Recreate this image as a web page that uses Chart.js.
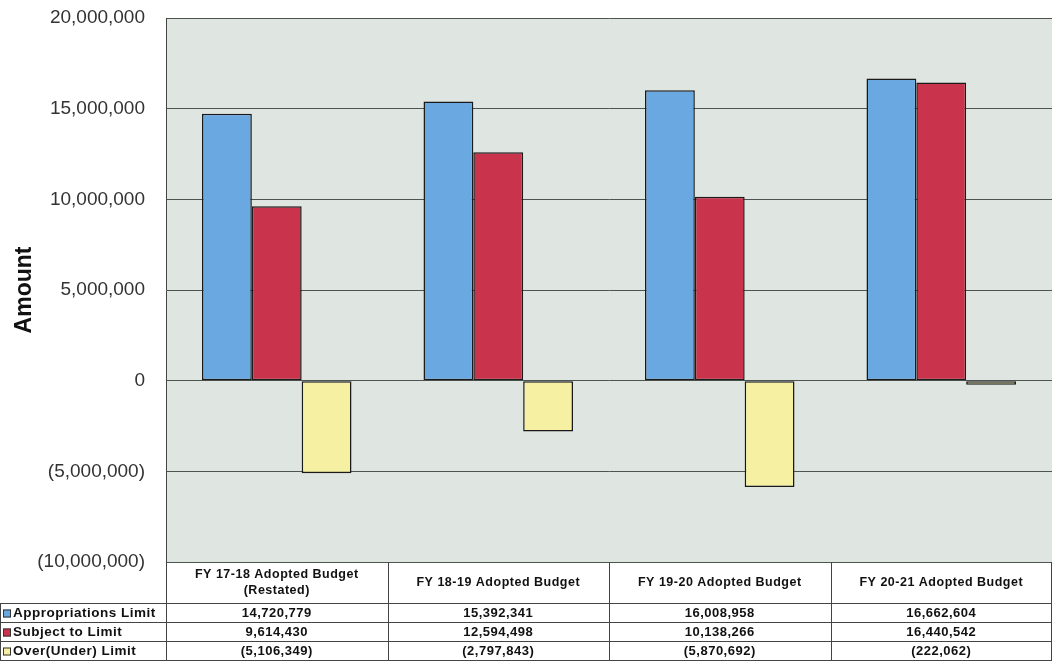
<!DOCTYPE html>
<html>
<head>
<meta charset="utf-8">
<script src="https://cdn.jsdelivr.net/npm/chart.js@4.4.1/dist/chart.umd.min.js"></script>
<style>
  html, body { margin: 0; padding: 0; background: #fff; }
  #wrap { width: 1053px; height: 662px; position: relative; }
</style>
</head>
<body>
<div id="wrap"><canvas id="budgetChart"></canvas></div>
<script>
var categories = [
  ['FY 17-18 Adopted Budget', '(Restated)'],
  ['FY 18-19 Adopted Budget'],
  ['FY 19-20 Adopted Budget'],
  ['FY 20-21 Adopted Budget']
];
var seriesNames = ['Appropriations Limit', 'Subject to Limit', 'Over(Under) Limit'];
var appropriationsLimit = [14720779, 15392341, 16008958, 16662604];
var subjectToLimit = [9614430, 12594498, 10138266, 16440542];
var overUnderLimit = [-5106349, -2797843, -5870692, -222062];
var yTicks = [-10000000, -5000000, 0, 5000000, 10000000, 15000000, 20000000];

var colors = ['#6aa8e2', '#c9344c', '#f6f0a2'];

function fmt(v) {
  var s = Math.abs(v).toLocaleString('en-US');
  return v < 0 ? '(' + s + ')' : s;
}

// plot background
var plotBg = {
  id: 'plotBg',
  beforeDraw: function(chart) {
    var a = chart.chartArea, ctx = chart.ctx;
    ctx.save();
    ctx.fillStyle = '#dfe5e0';
    ctx.fillRect(a.left, a.top, a.right - a.left, a.bottom - a.top);
    ctx.restore();
  }
};

// data table under the plot, columns follow the x scale
var dataTable = {
  id: 'dataTable',
  afterDraw: function(chart) {
    var ctx = chart.ctx, a = chart.chartArea, x = chart.scales.x;
    var catW = (a.right - a.left) / categories.length;
    var top = a.bottom, headBottom = top + 42, rowH = 19;
    var rows = [appropriationsLimit, subjectToLimit, overUnderLimit];
    var bottom = headBottom + rowH * rows.length;
    ctx.save();
    ctx.strokeStyle = '#444';
    ctx.lineWidth = 1;
    ctx.beginPath();
    // header verticals
    for (var i = 0; i <= categories.length; i++) {
      var bx = Math.round(a.left + catW * i) + 0.5;
      if (i === categories.length) bx = a.right - 0.5;
      ctx.moveTo(bx, top);
      ctx.lineTo(bx, bottom);
    }
    ctx.moveTo(0.5, headBottom);
    ctx.lineTo(0.5, bottom);
    for (var r = 0; r <= rows.length; r++) {
      var y = Math.round(headBottom + rowH * r) - 0.5;
      ctx.moveTo(0, y);
      ctx.lineTo(a.right, y);
    }
    ctx.stroke();

    ctx.fillStyle = '#111';
    ctx.textAlign = 'center';
    ctx.textBaseline = 'middle';
    ctx.font = 'bold 12.5px "Liberation Sans", Arial, sans-serif';
    ctx.letterSpacing = '0.5px';
    categories.forEach(function(lines, i) {
      var cx = x.getPixelForValue(i);
      var mid = (top + headBottom) / 2;
      var y0 = mid - (lines.length - 1) * 8;
      lines.forEach(function(t, k) { ctx.fillText(t, cx, y0 + k * 16); });
    });

    ctx.font = 'bold 13px "Liberation Sans", Arial, sans-serif';
    rows.forEach(function(vals, r) {
      var cy = headBottom + rowH * r + rowH / 2;
      vals.forEach(function(v, i) {
        ctx.textAlign = 'center';
        ctx.fillText(fmt(v), x.getPixelForValue(i), cy);
      });
      // legend key + series name
      ctx.fillStyle = colors[r];
      ctx.fillRect(3, cy - 4, 8, 8);
      ctx.strokeStyle = '#333';
      ctx.strokeRect(3.5, cy - 3.5, 7, 7);
      ctx.fillStyle = '#111';
      ctx.textAlign = 'left';
      ctx.font = 'bold 13.5px "Liberation Sans", Arial, sans-serif';
      ctx.fillText(seriesNames[r], 13, cy);
      ctx.font = 'bold 13px "Liberation Sans", Arial, sans-serif';
    });
    ctx.restore();
  }
};

var barData = {
  labels: categories.map(function(c) { return c.join(' '); }),
  datasets: [appropriationsLimit, subjectToLimit, overUnderLimit].map(function(vals, i) {
    return {
      label: seriesNames[i],
      data: vals,
      backgroundColor: colors[i],
      borderColor: '#1a1a1a',
      borderWidth: 1.5,
      borderSkipped: false,
      categoryPercentage: 0.675,
      barPercentage: 1.0
    };
  })
};

new Chart(document.getElementById('budgetChart'), {
  type: 'bar',
  data: barData,
  options: {
    responsive: true,
    maintainAspectRatio: false,
    animation: false,
    layout: { padding: { top: 18, bottom: 100, right: 1, left: 0 } },
    plugins: { legend: { display: false }, tooltip: { enabled: false } },
    scales: {
      x: { display: false },
      y: {
        min: yTicks[0],
        max: yTicks[yTicks.length - 1],
        afterFit: function(s) {
          s.width = 166;
          s.paddingTop = 0;
          s.paddingBottom = 0;
        },
        afterBuildTicks: function(s) { s.ticks = yTicks.map(function(v) { return { value: v }; }); },
        ticks: {
          padding: 21,
          color: '#333',
          font: { family: '"Liberation Sans", Arial, sans-serif', size: 19 },
          callback: function(v) { return fmt(v); }
        },
        grid: { color: '#4d544f', lineWidth: 1, drawTicks: false },
        border: { display: true, color: '#444', width: 1 },
        title: {
          display: true,
          text: 'Amount',
          color: '#111',
          padding: { top: 11, bottom: 0 },
          font: { family: '"Liberation Sans", Arial, sans-serif', size: 23, weight: 'bold' }
        }
      }
    }
  },
  plugins: [plotBg, dataTable]
});
</script>
</body>
</html>
